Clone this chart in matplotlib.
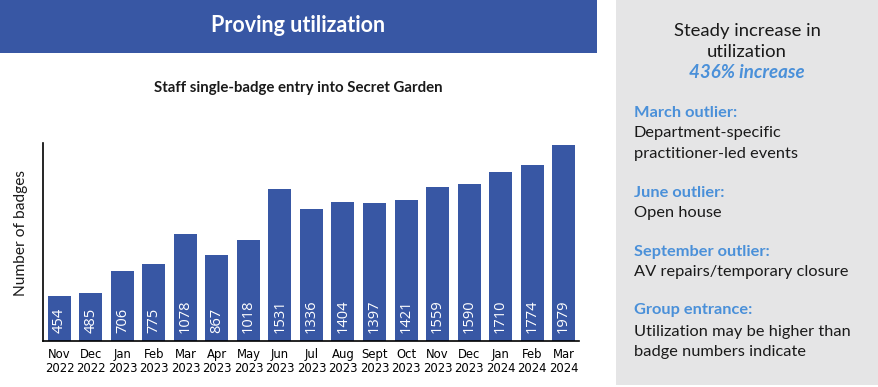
import matplotlib
matplotlib.use("Agg")
import numpy as np
import matplotlib.pyplot as plt
from matplotlib.patches import Rectangle

months = ["Nov", "Dec", "Jan", "Feb", "Mar", "Apr", "May", "Jun", "Jul",
          "Aug", "Sept", "Oct", "Nov", "Dec", "Jan", "Feb", "Mar"]
years = ["2022", "2022", "2023", "2023", "2023", "2023", "2023", "2023", "2023",
         "2023", "2023", "2023", "2023", "2023", "2024", "2024", "2024"]
badges = [454, 485, 706, 775, 1078, 867, 1018, 1531, 1336,
          1404, 1397, 1421, 1559, 1590, 1710, 1774, 1979]

W, H = 879, 387
BLUE = "#3857a4"
LIGHT_BLUE = "#4a90d9"
GRAY = "#e5e5e6"
DARK = "#1a1a1a"
FONT = "Lato"

fig = plt.figure(figsize=(W / 100, H / 100), dpi=100)


def fx(px):
    return px / W


def fy(py):
    return 1 - py / H


# title banner
fig.patches.append(Rectangle((0, fy(53)), fx(597), 53 / H, transform=fig.transFigure,
                             facecolor=BLUE, edgecolor="none"))
fig.text(fx(298), fy(26), "Proving utilization", color="white", fontsize=15.5,
         fontweight="bold", ha="center", va="center", family=FONT)
fig.text(fx(298), fy(88), "Staff single-badge entry into Secret Garden", color=DARK,
         fontsize=10.8, fontweight="bold", ha="center", va="center", family=FONT)

# side panel
fig.patches.append(Rectangle((fx(616), fy(385)), 1 - fx(616), 385 / H, transform=fig.transFigure,
                             facecolor=GRAY, edgecolor="none"))

# bar chart
ax = fig.add_axes([fx(43), fy(341), fx(579) - fx(43), (341 - 143) / H])
x = np.arange(len(badges))
ax.bar(x, badges, width=0.73, color=BLUE)
for xi, v in zip(x, badges):
    ax.text(xi, 80, str(v), rotation=90, color="white", fontsize=10.5,
            fontweight="medium", ha="center", va="bottom", family="Open Sans")
ax.set_xlim(-0.52, len(badges) - 0.51)
ax.set_ylim(0, 2000)
ax.set_yticks([])
ax.set_xticks(x)
ax.set_xticklabels([m + "\n" + y for m, y in zip(months, years)], fontsize=8.4,
                   color="#000000", family="Liberation Sans Narrow", linespacing=1.15)
ax.tick_params(axis="x", length=0, pad=5)
ax.spines["top"].set_visible(False)
ax.spines["right"].set_visible(False)
ax.spines["left"].set_linewidth(1.2)
ax.spines["bottom"].set_linewidth(1.2)
fig.text(fx(21), fy(233), "Number of badges", rotation=90, fontsize=11.2,
         ha="center", va="center", color=DARK, family=FONT)

# side text
fig.text(fx(747), fy(31), "Steady increase in", fontsize=13.3, ha="center",
         va="center", color=DARK, family=FONT)
fig.text(fx(747), fy(52), "utilization", fontsize=13.3, ha="center",
         va="center", color=DARK, family=FONT)
fig.text(fx(747), fy(72), "436% increase", fontsize=13.5, ha="center", va="center",
         color=LIGHT_BLUE, fontweight="bold", style="italic", family=FONT)

heads = [(113, "March outlier:"), (193, "June outlier:"),
         (252, "September outlier:"), (310, "Group entrance:")]
bodies = [(133, "Department-specific"), (154, "practitioner-led events"),
          (213, "Open house"), (272, "AV repairs/temporary closure"),
          (332, "Utilization may be higher than"), (352, "badge numbers indicate")]
for ypx, s in heads:
    fig.text(fx(634), fy(ypx), s, fontsize=11.8, fontweight="bold", color=LIGHT_BLUE,
             ha="left", va="center", family=FONT)
for ypx, s in bodies:
    fig.text(fx(634), fy(ypx), s, fontsize=11.8, color=DARK,
             ha="left", va="center", family=FONT)

fig.savefig("out.png", dpi=100)
